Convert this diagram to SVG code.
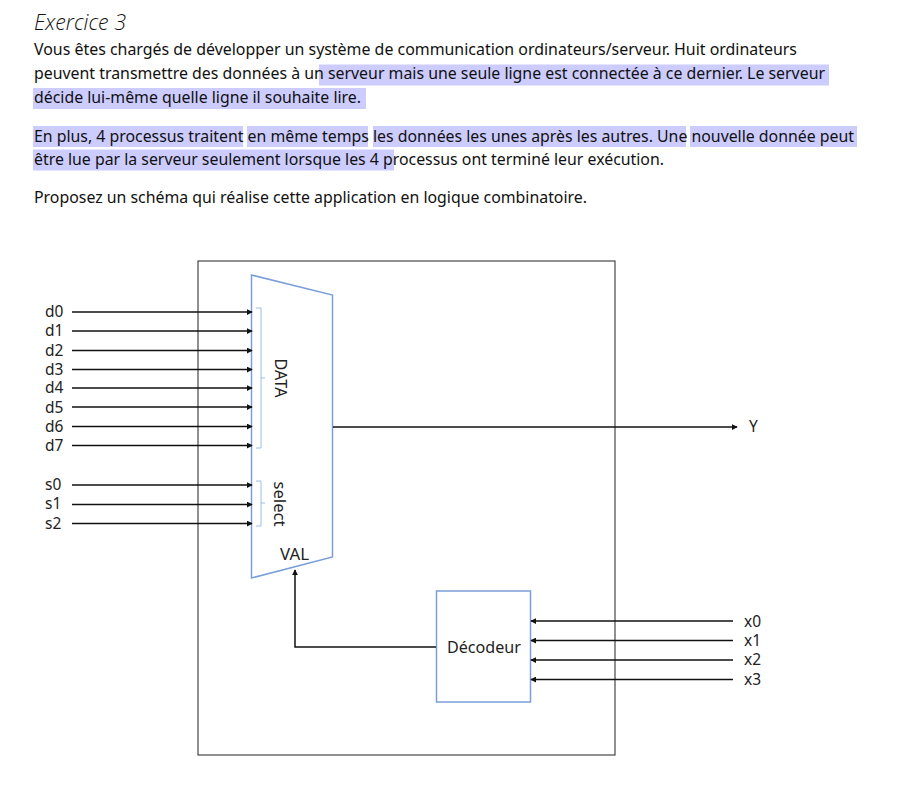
<svg xmlns="http://www.w3.org/2000/svg" width="917" height="787" viewBox="0 0 917 787">
<style>
text{font-family:"Noto Sans","Open Sans","Liberation Sans",sans-serif;fill:#111}
.p{font-size:15.5px}
.l{font-size:15.5px;fill:#222}
.hl{fill:#ccccff}
.w{fill:none;stroke:#111;stroke-width:1.5}
.bl{fill:#fff;stroke:#7a9fd8;stroke-width:1.5}
.br{fill:none;stroke:#9dbce6;stroke-width:1}
</style>
<defs>
<marker id="a" viewBox="0 0 8 8" refX="7" refY="4" markerWidth="6" markerHeight="6" markerUnits="userSpaceOnUse" orient="auto"><path d="M0 0L8 4L0 8z" fill="#111"/></marker>
</defs>
<rect width="917" height="787" fill="#fff"/>
<g id="highlights">
<rect class="hl" x="319" y="64.5" width="510" height="21"/>
<rect class="hl" x="33" y="88" width="333" height="21"/>
<rect class="hl" x="33" y="126" width="210" height="21"/>
<rect class="hl" x="247" y="126" width="121" height="21"/>
<rect class="hl" x="373" y="126" width="313" height="21"/>
<rect class="hl" x="690" y="126" width="167" height="21"/>
<rect class="hl" x="33" y="149.5" width="361" height="21"/>
</g>
<g id="statement">
<text x="34" y="30" font-size="21.5" font-style="italic" textLength="92" lengthAdjust="spacingAndGlyphs" style="font-family:'Open Sans','Noto Sans',sans-serif;font-weight:300">Exercice 3</text>
<text class="p" x="34" y="55" textLength="763" lengthAdjust="spacingAndGlyphs">Vous êtes chargés de développer un système de communication ordinateurs/serveur. Huit ordinateurs</text>
<text class="p" x="34" y="79" textLength="791" lengthAdjust="spacingAndGlyphs">peuvent transmettre des données à un serveur mais une seule ligne est connectée à ce dernier. Le serveur</text>
<text class="p" x="34" y="103" textLength="327" lengthAdjust="spacingAndGlyphs">décide lui-même quelle ligne il souhaite lire.</text>
<text class="p" x="34" y="141.5" textLength="820" lengthAdjust="spacingAndGlyphs">En plus, 4 processus traitent en même temps les données les unes après les autres. Une nouvelle donnée peut</text>
<text class="p" x="34" y="165" textLength="630" lengthAdjust="spacingAndGlyphs">être lue par la serveur seulement lorsque les 4 processus ont terminé leur exécution.</text>
<text class="p" x="34" y="203" textLength="553" lengthAdjust="spacingAndGlyphs">Proposez un schéma qui réalise cette application en logique combinatoire.</text>
</g>
<g id="system-frame"><rect x="198" y="261" width="417" height="494" fill="#fff" stroke="#222" stroke-width="1"/></g>
<g id="mux">
<polygon class="bl" points="251.5,275 332.5,295 332.5,557 251.5,578"/>
<path class="br" d="M256 308H261V448H256M261 378H265"/>
<path class="br" d="M256 481H261V526H256M261 503H265"/>
<text class="l" transform="translate(275,378) rotate(90)" text-anchor="middle" textLength="39" lengthAdjust="spacingAndGlyphs" font-size="15">DATA</text>
<text class="l" transform="translate(274,504) rotate(90)" text-anchor="middle" textLength="45" lengthAdjust="spacingAndGlyphs">select</text>
<text class="l" x="280" y="560" textLength="29" lengthAdjust="spacingAndGlyphs">VAL</text>
</g>
<g id="decoder">
<rect class="bl" x="436.5" y="591" width="94" height="111"/>
<text class="l" x="447" y="652.500" textLength="74" lengthAdjust="spacingAndGlyphs">Décodeur</text>
</g>
<g id="connectors">
<path class="w" marker-end="url(#a)" d="M72 312H252"/>
<path class="w" marker-end="url(#a)" d="M72 331H252"/>
<path class="w" marker-end="url(#a)" d="M72 350.500H252"/>
<path class="w" marker-end="url(#a)" d="M72 369.500H252"/>
<path class="w" marker-end="url(#a)" d="M72 388H252"/>
<path class="w" marker-end="url(#a)" d="M72 407H252"/>
<path class="w" marker-end="url(#a)" d="M72 426.500H252"/>
<path class="w" marker-end="url(#a)" d="M72 445.500H252"/>
<path class="w" marker-end="url(#a)" d="M72 485H252"/>
<path class="w" marker-end="url(#a)" d="M72 504.500H252"/>
<path class="w" marker-end="url(#a)" d="M72 523.500H252"/>
<path class="w" marker-end="url(#a)" d="M333 427H737"/>
<path class="w" marker-end="url(#a)" d="M436 647H295V570"/>
<path class="w" marker-end="url(#a)" d="M733 621H531"/>
<path class="w" marker-end="url(#a)" d="M733 640.500H531"/>
<path class="w" marker-end="url(#a)" d="M733 660H531"/>
<path class="w" marker-end="url(#a)" d="M733 679.500H531"/>
</g>
<g id="labels">
<text class="l" x="45" y="317">d0</text>
<text class="l" x="45" y="336">d1</text>
<text class="l" x="45" y="355.500">d2</text>
<text class="l" x="45" y="374.500">d3</text>
<text class="l" x="45" y="393">d4</text>
<text class="l" x="45" y="412.500">d5</text>
<text class="l" x="45" y="432">d6</text>
<text class="l" x="45" y="451">d7</text>
<text class="l" x="45" y="490">s0</text>
<text class="l" x="45" y="509">s1</text>
<text class="l" x="45" y="529">s2</text>
<text class="l" x="749" y="432">Y</text>
<text class="l" x="744" y="626.500">x0</text>
<text class="l" x="744" y="646">x1</text>
<text class="l" x="744" y="665">x2</text>
<text class="l" x="744" y="684.500">x3</text>
</g>
</svg>
